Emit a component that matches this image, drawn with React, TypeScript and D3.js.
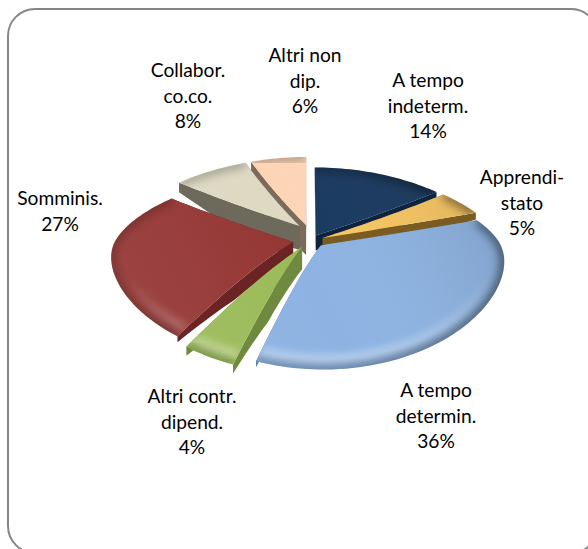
import React from "react";
import * as d3 from "d3";

const categories = ["A tempo indeterm.", "Apprendistato", "A tempo determin.", "Altri contr. dipend.", "Somminis.", "Collabor. co.co.", "Altri non dip."];
const shares = [14, 5, 36, 4, 27, 8, 6];
const topColors = ["#17375e", "#f7c661", "#8db3e2", "#9bbb59", "#953735", "#ddd9c3", "#fcd5b5"];
const wallColors = ["#0e2340", "#7a5c22", "#5f7fa8", "#6f8a3e", "#6b2423", "#6d6a5c", "#7d6a5a"];
const labelLines = [
  ["A tempo", "indeterm.", "14%"],
  ["Apprendi-", "stato", "5%"],
  ["A tempo", "determin.", "36%"],
  ["Altri contr.", "dipend.", "4%"],
  ["Somminis.", "27%"],
  ["Collabor.", "co.co.", "8%"],
  ["Altri non", "dip.", "6%"],
];
const labelX = [428, 522, 436, 192, 60, 188, 305];
const labelY = [87, 184, 397, 403, 205, 77, 62];

// the two rear-left slices sit higher and have deeper cut faces in the reference
const sliceLift = [0, 0, 0, 0, 0, 10, 10];
const wallScale = [1, 1.1, 1, 1.5, 1, 1.6, 2];

const cx = 309;
const cy = 241;
const Rx = 178;
const persp = 0.18;
const explode = 0.09;
const depth = 15;

type Pt = [number, number];

// foreshortening is nearly flat behind the centre and opens up towards the viewer
const foreshorten = (Y: number) => 68 * Y + 50 * Math.max(Y, 0) ** 2;

const App = () => {
  const arcs = d3.pie<number>().sort(null).startAngle(0).endAngle(2 * Math.PI)(shares);
  const line = d3.line<Pt>();

  const slices = arcs.map((a, i) => {
    const mid = (a.startAngle + a.endAngle) / 2;
    const ex = explode * Math.sin(mid);
    const ey = -explode * Math.cos(mid);
    const project = (r: number, t: number, z: number): Pt => {
      const X = r * Math.sin(t) + ex;
      const Y = -r * Math.cos(t) + ey;
      const s = 1 / (1 - Y * persp);
      return [cx + s * X * Rx, cy + foreshorten(Y) + z * depth * wallScale[i] - sliceLift[i]];
    };
    const steps = Math.max(6, Math.ceil((a.endAngle - a.startAngle) / 0.03));
    const angles = d3.range(steps + 1).map((k) => a.startAngle + ((a.endAngle - a.startAngle) * k) / steps);
    const radii = d3.range(21).map((k) => k / 20);
    const rimPts = angles.map((t) => project(1, t, 0));
    const edge = (t: number, z: (r: number) => number) => radii.map((r) => project(r, t, z(r)));
    const top = line([...edge(a.startAngle, () => 0), ...rimPts, ...edge(a.endAngle, () => 0).reverse()]) + "Z";
    const rim = line(rimPts) as string;
    const inner = line(angles.map((t) => project(0.94, t, 0))) as string;
    // cut faces taper towards the rim, the bevel swallows the outer end
    const wall = (t: number) =>
      line([...edge(t, () => 0), ...edge(t, (r) => (r < 0.55 ? 1 : 1 - ((r - 0.55) / 0.45) * 0.6)).reverse()]) + "Z";
    return {
      i,
      top,
      rim,
      inner,
      walls: [wall(a.startAngle), wall(a.endAngle)],
      order: -Math.cos(mid),
    };
  });
  const drawOrder = [...slices].sort((p, q) => d3.ascending(p.order, q.order));

  return (
    <svg
      width={588}
      height={549}
      style={{ position: "absolute", left: 0, top: 0, background: "#fff" }}
      fontFamily="Lato, 'Open Sans', sans-serif"
    >
      <defs>
        <linearGradient id="shade" gradientUnits="userSpaceOnUse" x1={110} y1={360} x2={500} y2={170}>
          <stop offset="0" stopColor="#fff" stopOpacity={0.08} />
          <stop offset="0.5" stopColor="#fff" stopOpacity={0} />
          <stop offset="1" stopColor="#000" stopOpacity={0.14} />
        </linearGradient>
        <linearGradient id="rimDark" gradientUnits="userSpaceOnUse" x1={110} y1={0} x2={503} y2={0}>
          <stop offset="0" stopColor="#000" stopOpacity={0.2} />
          <stop offset="0.6" stopColor="#000" stopOpacity={0.28} />
          <stop offset="1" stopColor="#000" stopOpacity={0.45} />
        </linearGradient>
        <linearGradient id="rimLight" gradientUnits="userSpaceOnUse" x1={0} y1={280} x2={0} y2={365}>
          <stop offset="0" stopColor="#fff" stopOpacity={0} />
          <stop offset="1" stopColor="#fff" stopOpacity={0.55} />
        </linearGradient>
        <filter id="soft" x="-20%" y="-20%" width="140%" height="140%">
          <feGaussianBlur stdDeviation={4} />
        </filter>
        {slices.map((s) => (
          <clipPath id={`face${s.i}`} key={s.i}>
            <path d={s.top} />
          </clipPath>
        ))}
      </defs>

      <rect x={8} y={9} width={590} height={544} rx={27} fill="#fff" stroke="#868686" strokeWidth={2} />

      {drawOrder.map((s) => (
        <g key={categories[s.i]}>
          {s.walls.map((d, k) => (
            <path key={k} d={d} fill={wallColors[s.i]} />
          ))}
          <path d={s.top} fill={topColors[s.i]} />
          <g clipPath={`url(#face${s.i})`}>
            <path d={s.top} fill="url(#shade)" />
            <path d={s.inner} fill="none" stroke="url(#rimLight)" strokeWidth={7} filter="url(#soft)" />
            <path d={s.rim} fill="none" stroke="url(#rimDark)" strokeWidth={10} filter="url(#soft)" />
          </g>
        </g>
      ))}

      {labelLines.map((lines, i) => (
        <text key={i} textAnchor="middle" fontSize={19.2} fill="#000">
          {lines.map((l, k) => (
            <tspan key={k} x={labelX[i]} y={labelY[i] + k * 25.6}>
              {l}
            </tspan>
          ))}
        </text>
      ))}
    </svg>
  );
};

export default App;
